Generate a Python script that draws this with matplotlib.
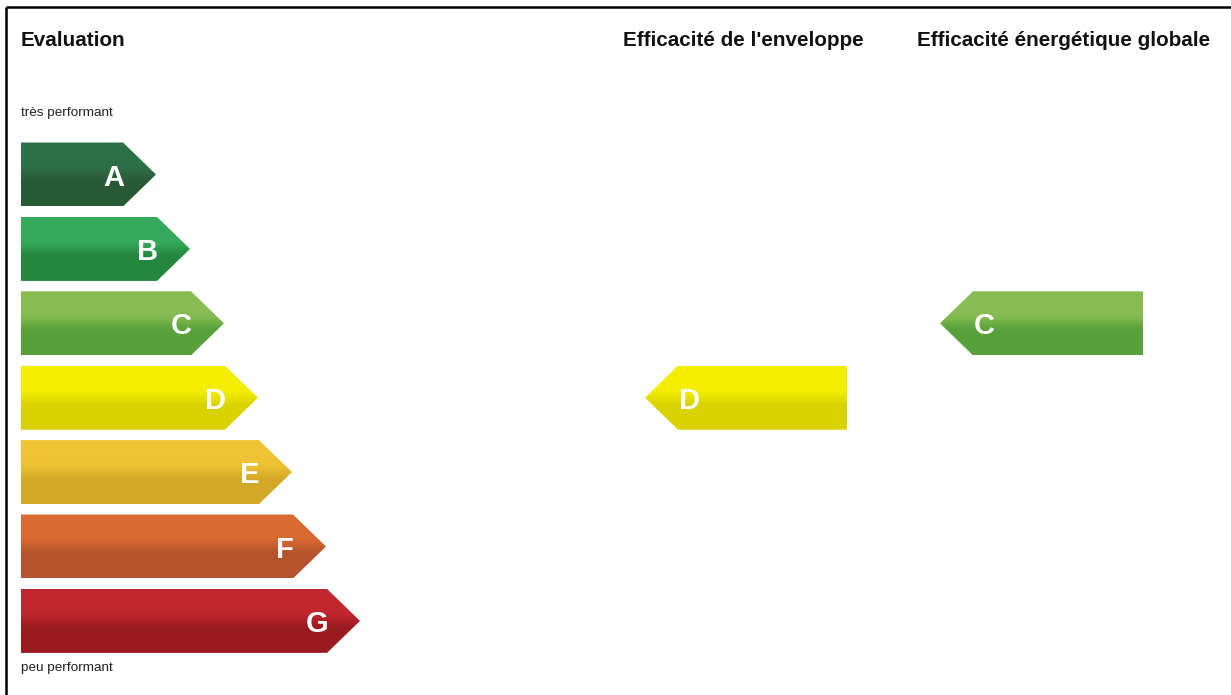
import matplotlib
matplotlib.use("Agg")
import matplotlib.pyplot as plt
import numpy as np
from matplotlib.patches import Polygon
from matplotlib.colors import to_rgb

# ---- data ----
categories = ["A", "B", "C", "D", "E", "F", "G"]
top_colors = ["#2e7046", "#36aa5c", "#88bc52", "#f3ee00", "#efc333", "#d96a31", "#c0272e"]
bottom_colors = ["#295a36", "#23863f", "#57a03a", "#d8d300", "#d3a827", "#b5532e", "#991a20"]
envelope_rating = "D"
global_rating = "C"
header_left = "Evaluation"
header_envelope = "Efficacité de l'enveloppe"
header_global = "Efficacité énergétique globale"
label_top = "très performant"
label_bottom = "peu performant"

W, H = 1231, 695
fig = plt.figure(figsize=(W / 100, H / 100), dpi=100)
ax = fig.add_axes([0, 0, 1, 1])
ax.set_xlim(0, W)
ax.set_ylim(H, 0)
ax.axis("off")

narrow = ["Liberation Sans Narrow", "Liberation Sans", "DejaVu Sans"]
letter_font = ["Liberation Sans", "DejaVu Sans"]

# frame
ax.plot([6, W], [7, 7], color="black", lw=1.8, solid_capstyle="butt")
ax.plot([6, 6], [7, H], color="black", lw=1.8, solid_capstyle="butt")

row_y0 = 142.5
row_step = 74.4
bar_h = 64
tip_w = 33
x0 = 21
rect_end0 = 123
len_step = 34


def gradient_img(c_top, c_bot, n=256):
    t = np.linspace(0, 1, n)
    w = np.clip((t - 0.35) / 0.3, 0, 1)
    w = w * w * (3 - 2 * w)
    a = np.array(to_rgb(c_top))
    b = np.array(to_rgb(c_bot))
    img = a[None, :] * (1 - w[:, None]) + b[None, :] * w[:, None]
    return np.repeat(img[:, None, :], 2, axis=1)


def draw_arrow(xl, xr, yt, yb, c_top, c_bot, pointing="right"):
    ym = (yt + yb) / 2
    if pointing == "right":
        pts = [(xl, yt), (xr - tip_w, yt), (xr, ym), (xr - tip_w, yb), (xl, yb)]
    else:
        pts = [(xl + tip_w, yt), (xr, yt), (xr, yb), (xl + tip_w, yb), (xl, ym)]
    poly = Polygon(pts, closed=True, facecolor="none", edgecolor="none")
    ax.add_patch(poly)
    im = ax.imshow(gradient_img(c_top, c_bot), extent=[xl, xr, yb, yt],
                   aspect="auto", interpolation="nearest", zorder=2)
    im.set_clip_path(poly)


for i, cat in enumerate(categories):
    yt = row_y0 + i * row_step
    yb = yt + bar_h
    rect_end = rect_end0 + i * len_step
    draw_arrow(x0, rect_end + tip_w, yt, yb, top_colors[i], bottom_colors[i], "right")
    ax.text(rect_end + 1, (yt + yb) / 2 + 3, cat, color="white", fontsize=21,
            fontweight="bold", family=letter_font,
            ha="right", va="center", zorder=3)

# right-hand arrows
for rating, xl, xr in [(envelope_rating, 645, 847), (global_rating, 940, 1143)]:
    i = categories.index(rating)
    yt = row_y0 + i * row_step
    yb = yt + bar_h
    draw_arrow(xl, xr, yt, yb, top_colors[i], bottom_colors[i], "left")
    ax.text(xl + tip_w + 1, (yt + yb) / 2 + 3, rating, color="white", fontsize=21,
            fontweight="bold", family=letter_font,
            ha="left", va="center", zorder=3)

# headers
hdr_fs = 14.9
ax.text(21, 40, header_left, fontsize=hdr_fs, fontweight="bold", family=narrow,
        ha="left", va="center", color="#111111")
ax.text(743, 40, header_envelope, fontsize=hdr_fs, fontweight="bold", family=narrow,
        ha="center", va="center", color="#111111")
ax.text(1064, 40, header_global, fontsize=hdr_fs, fontweight="bold", family=narrow,
        ha="center", va="center", color="#111111")
ax.text(21, 113, label_top, fontsize=9.7, family=narrow, ha="left", va="center",
        color="#222222")
ax.text(21, 668, label_bottom, fontsize=9.7, family=narrow, ha="left", va="center",
        color="#222222")

fig.savefig("out.png", dpi=100, facecolor="white")
